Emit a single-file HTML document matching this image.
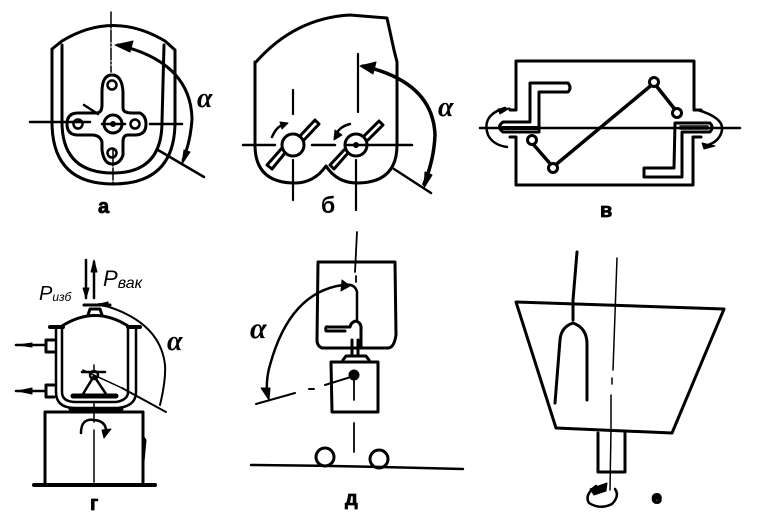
<!DOCTYPE html>
<html><head><meta charset="utf-8"><style>
html,body{margin:0;padding:0;background:#fff}
svg{display:block}
text{fill:#000;font-family:"Liberation Sans","DejaVu Sans",sans-serif}
.l{font-weight:bold;font-size:20px;stroke:#000;stroke-width:.8px}
.a{font-family:"Liberation Serif","DejaVu Serif",serif;font-style:italic;font-size:28px;font-weight:bold}
.p{font-style:italic}
</style></head><body>
<svg width="759" height="532" viewBox="0 0 759 532" xmlns="http://www.w3.org/2000/svg" fill="none" stroke="#000" stroke-linecap="round" stroke-linejoin="round">
<!-- a -->
<g>
<path d="M52 122V49L62 41Q113 10 165 41L175 50V122Q175 184 113 184Q52 184 52 122Z" stroke-width="3"/>
<path d="M62 45V122Q62 173 113 173Q162 173 162 122L164 45" stroke-width="3"/>
<path d="M102 92Q102 75 112 75Q122 75 123 92V108Q123 113 132 113H140Q146 116 146 124Q146 135 135 135H128Q123 135 123 142V155Q120 164 112 164Q104 164 102 150V142Q100 135 92 135H78Q67 135 67 124Q67 113 78 113H96Q102 113 102 105Z" stroke-width="3"/>
<circle cx="112" cy="85" r="4.5" stroke-width="2.5"/><circle cx="112" cy="153" r="4.5" stroke-width="2.5"/>
<circle cx="78" cy="124" r="4.5" stroke-width="2.5"/><circle cx="135" cy="124" r="4.5" stroke-width="2.5"/>
<circle cx="113" cy="124" r="9" stroke-width="3"/><circle cx="113" cy="124" r="3" fill="#000" stroke="none"/>
<path d="M30 122H90M102 124H125M150 124H182" stroke-width="2.5"/>
<path d="M111 12V72M113 150V186" stroke-width="1.5" stroke-dasharray="12 2 2 2"/>
<path d="M84 105L98 114" stroke-width="2.5"/>
<path d="M118 45Q190 62 192 118Q191 140 183 160" stroke-width="3"/>
<path d="M115 45L133 41L130 52Z" fill="#000"/>
<path d="M184 150L190 152L182 164Z" fill="#000"/>
<path d="M158 150L204 177" stroke-width="2.5"/>
<text class="a" x="197" y="107" stroke="none">α</text>
<text class="l" x="98" y="213" stroke="none">а</text>
</g>
<!-- b -->
<g>
<path d="M256 62Q295 18 350 15L387 18L394 50L397 62V145Q397 183 357 183Q337 183 326 166Q314 183 295 183Q255 183 255 145V62Z" stroke-width="3"/>
<path d="M243 145H275M312 145H335M345 145H412" stroke-width="2.5"/>
<path d="M293 90V114M293 160V200M358 54V112M356 160V210" stroke-width="2.2"/>
<circle cx="293" cy="145" r="11" stroke-width="3"/><circle cx="356" cy="145" r="11" stroke-width="3"/>
<circle cx="356" cy="145" r="3" fill="#000" stroke="none"/>
<path d="M285 153L272 169L267 165L282 148M300 136L315 120L319 124L304 140" stroke-width="3"/>
<path d="M348 153L334 169L330 165L344 150M364 136L379 121L383 125L368 140" stroke-width="3"/>
<path d="M363 66Q433 82 435 135Q434 160 424 184" stroke-width="3.5"/>
<path d="M360 66L376 62L373 74Z" fill="#000"/><path d="M425 172L432 175L424 188Z" fill="#000"/>
<path d="M394 169L431 193" stroke-width="2.5"/>
<path d="M272 137Q277 125 286 124M335 137Q338 127 350 124" stroke-width="2.5"/>
<path d="M280 122L288 123L282 129ZM335 130L342 135L334 140Z" fill="#000"/>
<text class="a" x="438" y="116" stroke="none">α</text>
<text x="321" y="213" style="font-weight:bold;font-size:23px" stroke="none">б</text>
</g>
<!-- v -->
<g>
<path d="M510 110H516V61H694V110H701M510 137H516V185H693V137H701" stroke-width="3"/>
<path d="M530 122V83H568Q572 88 568 92H539V132H503Q496 127 503 122Z" stroke-width="3"/>
<path d="M502 128H537" stroke-width="4"/>
<path d="M675 123H710Q714 127 710 132H682V177H644V168H674Z" stroke-width="3"/>
<path d="M680 126H708M680 129H708" stroke-width="1.5"/>
<path d="M480 128H740" stroke-width="2.5"/>
<path d="M533 144L553 167L654 83L677 112" stroke-width="3.5"/>
<circle cx="532" cy="140" r="4.5" fill="#fff" stroke-width="3"/>
<circle cx="553" cy="168" r="4.5" fill="#fff" stroke-width="3"/>
<circle cx="654" cy="82" r="4.5" fill="#fff" stroke-width="3"/>
<circle cx="677" cy="113" r="4.5" fill="#fff" stroke-width="3"/>
<path d="M505 108Q481 115 488 135Q493 145 507 147" stroke-width="2.5"/>
<path d="M498 109L510 108L500 114Z" fill="#000"/>
<path d="M698 110Q724 118 722 130Q720 142 705 146" stroke-width="2.5"/>
<path d="M702 143L715 146L704 149Z" fill="#000"/>
<text class="l" x="600" y="217" stroke="none">в</text>
</g>
<!-- g -->
<g>
<path d="M62 326Q95 305 128 326" stroke-width="3"/>
<path d="M50 327H63M128 327H140" stroke-width="4"/>
<path d="M56 327V392Q56 408 75 408H118Q136 406 136 392V327" stroke-width="2.5"/>
<path d="M62 327V392Q62 402 76 402H116Q128 400 128 392V327" stroke-width="2.5"/>
<path d="M88 315L90 309H100L102 315M84 305H110" stroke-width="3"/>
<path d="M16 345H45M16 391H45" stroke-width="2.5"/>
<path d="M18 345L32 343V347ZM18 391L32 388V394Z" fill="#000"/>
<path d="M46 340H54M46 352H54M46 340V352M46 385H54M46 397H54M46 385V397" stroke-width="3"/>
<path d="M45 412H143V483M45 412V483" stroke-width="3"/>
<path d="M70 409H122" stroke-width="3"/>
<path d="M34 485H155" stroke-width="4"/>
<path d="M73 396H116" stroke-width="5"/>
<path d="M83 394L94 376L106 394M82 372H105" stroke-width="2.5"/>
<circle cx="94" cy="375" r="4" stroke-width="2.5"/>
<path d="M83 370L122 388" stroke-width="1.5"/>
<path d="M94 365V372M94 402V422M94 430V482" stroke-width="1.5"/>
<path d="M122 388L166 412" stroke-width="2"/>
<path d="M81 433Q81 418 94 420Q106 421 106 431" stroke-width="2.5"/><path d="M102 430L111 429L104 438Z" fill="#000"/>
<path d="M144 437L146 440L144 462L142 440Z" fill="#000"/>
<path d="M99 304Q160 320 165 365Q166 380 160 405" stroke-width="2"/>
<path d="M95 305L108 302V307Z" fill="#000"/>
<path d="M86 260V298M94 262V298" stroke-width="2.5"/>
<path d="M94 260L97 272H91ZM86 298L89 288H83Z" fill="#000"/>
<text class="p" x="103" y="286" style="font-size:22px" stroke="none">P<tspan font-size="16" dy="2">вак</tspan></text>
<text class="p" x="39" y="300" style="font-size:20px" stroke="none">P<tspan font-size="12" dy="1">изб</tspan></text>
<text class="a" x="167" y="350" stroke="none">α</text>
<text class="l" x="90" y="510" stroke="none">г</text>
</g>
<!-- d -->
<g>
<path d="M318 262H395L396 335Q394 348 388 348H322Q317 346 317 340Z" stroke-width="3"/>
<path d="M357 232L355 272M356 276V282" stroke-width="1.8"/>
<path d="M345 331H326Q325 326 328 327H350Q351 322 356 321Q362 323 361 330V348M352 340V355M358 340V355" stroke-width="3"/>
<path d="M343 360L346 356H366L369 360" stroke-width="3"/>
<path d="M331 362H378V412H332Z" stroke-width="3"/>
<circle cx="354" cy="375" r="5" fill="#000" stroke-width="1"/>
<path d="M354 375V400M354 423V452" stroke-width="1.8"/>
<path d="M325 385L354 376M309 389H314M256 404L295 393" stroke-width="2"/>
<path d="M343 285Q290 292 270 365Q266 378 267 395M343 285Q355 283 357 292V320" stroke-width="2.5"/>
<path d="M342 280L350 286L341 291Z" fill="#000"/>
<path d="M261 388L270 388L269 400Z" fill="#000"/>
<circle cx="325" cy="457" r="9" stroke-width="3"/><circle cx="379" cy="459" r="9" stroke-width="3"/>
<path d="M251 465Q360 466 463 469" stroke-width="2.5"/>
<text class="a" x="250" y="338" style="font-size:30px" stroke="none">α</text>
<text class="l" x="345" y="505" stroke="none">д</text>
</g>
<!-- e -->
<g>
<path d="M516 302L724 309L672 433L556 428Z" stroke-width="3"/>
<path d="M577 252L573 300V320" stroke-width="3"/>
<path d="M555 403L560 340Q561 327 573 323Q587 328 587 344V400" stroke-width="3"/>
<path d="M617 258L613 370M612 378V384M611 395V428L610 490" stroke-width="1.5"/>
<path d="M598 433V472H625V433" stroke-width="3"/>
<path d="M596 486Q584 495 589 503Q600 510 612 504Q620 496 615 489" stroke-width="2.5"/>
<path d="M590 489L607 483L606 491L594 495Z" fill="#000"/>
<text class="l" x="652" y="503" style="stroke-width:2px;font-size:17px" stroke="none">е</text>
</g>
</svg>
</body></html>
